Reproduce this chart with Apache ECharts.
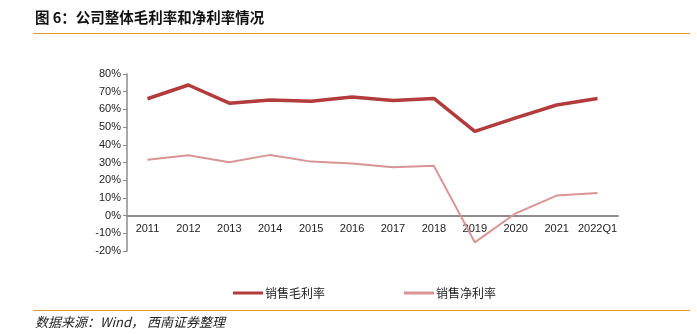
<!DOCTYPE html>
<html>
<head>
<meta charset="utf-8">
<script src="https://cdn.jsdelivr.net/npm/echarts@6/dist/echarts.min.js"></script>
<style>
  html, body { margin: 0; padding: 0; background: #fff; }
  #chart { width: 697px; height: 334px; }
</style>
</head>
<body>
<div id="chart"></div>
<script>
// Periods shown along the horizontal axis
const periods = ['2011', '2012', '2013', '2014', '2015', '2016', '2017', '2018', '2019', '2020', '2021', '2022Q1'];
// Gross margin (%)
const grossMargin = [66.0, 73.8, 63.5, 65.3, 64.6, 67.0, 65.0, 66.2, 47.6, 55.2, 62.5, 66.1];
// Net margin (%)
const netMargin = [31.6, 34.1, 30.1, 34.3, 30.5, 29.5, 27.3, 28.1, -15.1, 1.3, 11.3, 12.8];
const seriesNames = ['销售毛利率', '销售净利率'];
// Value axis range (%)
const yMin = -20, yMax = 80, yStep = 10;

const chart = echarts.init(document.getElementById('chart'), null, { renderer: 'canvas' });
const fontFamily = 'Arial, "Liberation Sans", "Noto Sans CJK SC", sans-serif';

const gridTop = 74, gridBottom = 83;
const gridHeight = 334 - gridTop - gridBottom;
// lift the category axis from the bottom edge up to the zero line
const zeroOffset = -gridHeight * (0 - yMin) / (yMax - yMin);

chart.setOption({
  backgroundColor: '#fff',
  animation: false,
  graphic: [
    { type: 'text', left: 35, top: 10,
      style: { text: '图 6：公司整体毛利率和净利率情况', font: 'bold 14.5px "Noto Sans CJK SC", sans-serif', fill: '#111' } },
    { type: 'line', shape: { x1: 33, y1: 33.5, x2: 690, y2: 33.5 }, style: { stroke: '#e39a3b', lineWidth: 1.2 } },
    { type: 'line', shape: { x1: 33, y1: 310.5, x2: 690, y2: 310.5 }, style: { stroke: '#e39a3b', lineWidth: 1.2 } },
    { type: 'text', left: 35, top: 316,
      style: { text: '数据来源：Wind， 西南证券整理', font: 'italic 13px "Noto Sans CJK SC", sans-serif', fill: '#222' } }
  ],
  legend: {
    bottom: 30,
    left: 228,
    itemGap: 79,
    itemWidth: 30,
    itemHeight: 3,
    icon: 'rect',
    textStyle: { fontFamily: '"Noto Sans CJK SC", sans-serif', fontSize: 12, color: '#222', padding: [0, 0, 0, -3] },
    data: seriesNames
  },
  grid: { left: 127, right: 79, top: gridTop, bottom: gridBottom, containLabel: false },
  xAxis: {
    type: 'category',
    data: periods,
    boundaryGap: true,
    offset: zeroOffset,
    axisLine: { onZero: false, lineStyle: { color: '#8c8c8c', width: 2 } },
    axisTick: { show: false },
    axisLabel: { color: '#222', fontFamily: fontFamily, fontSize: 11, margin: 8, interval: 0 }
  },
  yAxis: {
    type: 'value',
    min: yMin,
    max: yMax,
    interval: yStep,
    axisLine: { show: true, lineStyle: { color: '#8c8c8c', width: 1.5 } },
    axisTick: { show: true, inside: false, length: 4, lineStyle: { color: '#8c8c8c' } },
    splitLine: { show: false },
    axisLabel: { color: '#222', fontFamily: fontFamily, fontSize: 11, margin: 6, formatter: '{value}%' }
  },
  series: [
    {
      name: seriesNames[0], type: 'line', data: grossMargin,
      symbol: 'none', color: '#b33b3b',
      lineStyle: { color: '#b33b3b', width: 3.5 }
    },
    {
      name: seriesNames[1], type: 'line', data: netMargin,
      symbol: 'none', color: '#d99494',
      lineStyle: { color: '#d99494', width: 2 }
    }
  ]
});
</script>
</body>
</html>
